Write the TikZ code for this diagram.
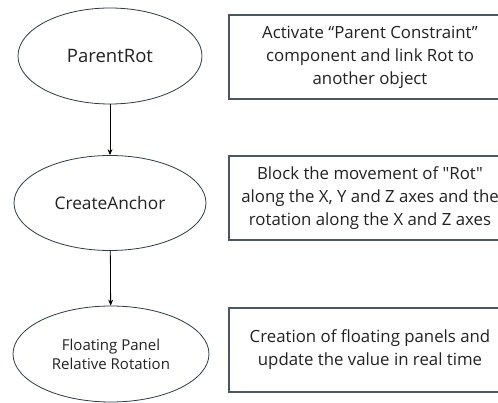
\documentclass[tikz,border=0pt]{standalone}
\usepackage{fontspec}
\setmainfont{Open Sans}[Ligatures=TeXOff]
\usetikzlibrary{shapes.geometric,arrows.meta}
\definecolor{boxline}{HTML}{4A5660}
\definecolor{ovalline}{HTML}{2E3A44}
\definecolor{txt}{HTML}{222222}
\tikzset{
  oval/.style={ellipse, draw=ovalline, line width=0.8pt, fill=white, inner sep=0pt, text=txt, align=center},
  infobox/.style={rectangle, draw=boxline, line width=1.5pt, fill=white, minimum width=282pt, minimum height=84pt, inner sep=0pt, text=txt, align=center, font=\fontsize{16.8}{23}\selectfont},
  flow/.style={line width=0.8pt, draw=black, -{Stealth[length=6pt,width=5pt]}}
}
\begin{document}
\begin{tikzpicture}[x=1pt,y=-1pt]
\useasboundingbox (0,0) rectangle (498,403);
\clip (0,0) rectangle (498,403);
\node[oval, minimum width=184pt, minimum height=96pt, font=\fontsize{18.5}{20}\selectfont] (e1) at (110,56) {ParentRot};
\node[oval, minimum width=192pt, minimum height=95pt, font=\fontsize{17.3}{20}\selectfont] (e2) at (110,203) {CreateAnchor};
\node[oval, minimum width=196pt, minimum height=96pt, font=\fontsize{15}{19}\selectfont] (e3) at (111,354) {Floating Panel\\Relative Rotation};
\node[infobox] (b1) at (370,57) {Activate “Parent Constraint”\\component and link Rot to\\another object};
\node[infobox] (b2) at (370,198) {Block the movement of "Rot"\\along the X, Y and Z axes and the\\rotation along the X and Z axes};
\node[infobox] (b3) at (370,350) {Creation of floating panels and\\update the value in real time};
\draw[flow] (e1) -- (e2);
\draw[flow] (e2) -- (e3);
\end{tikzpicture}
\end{document}
